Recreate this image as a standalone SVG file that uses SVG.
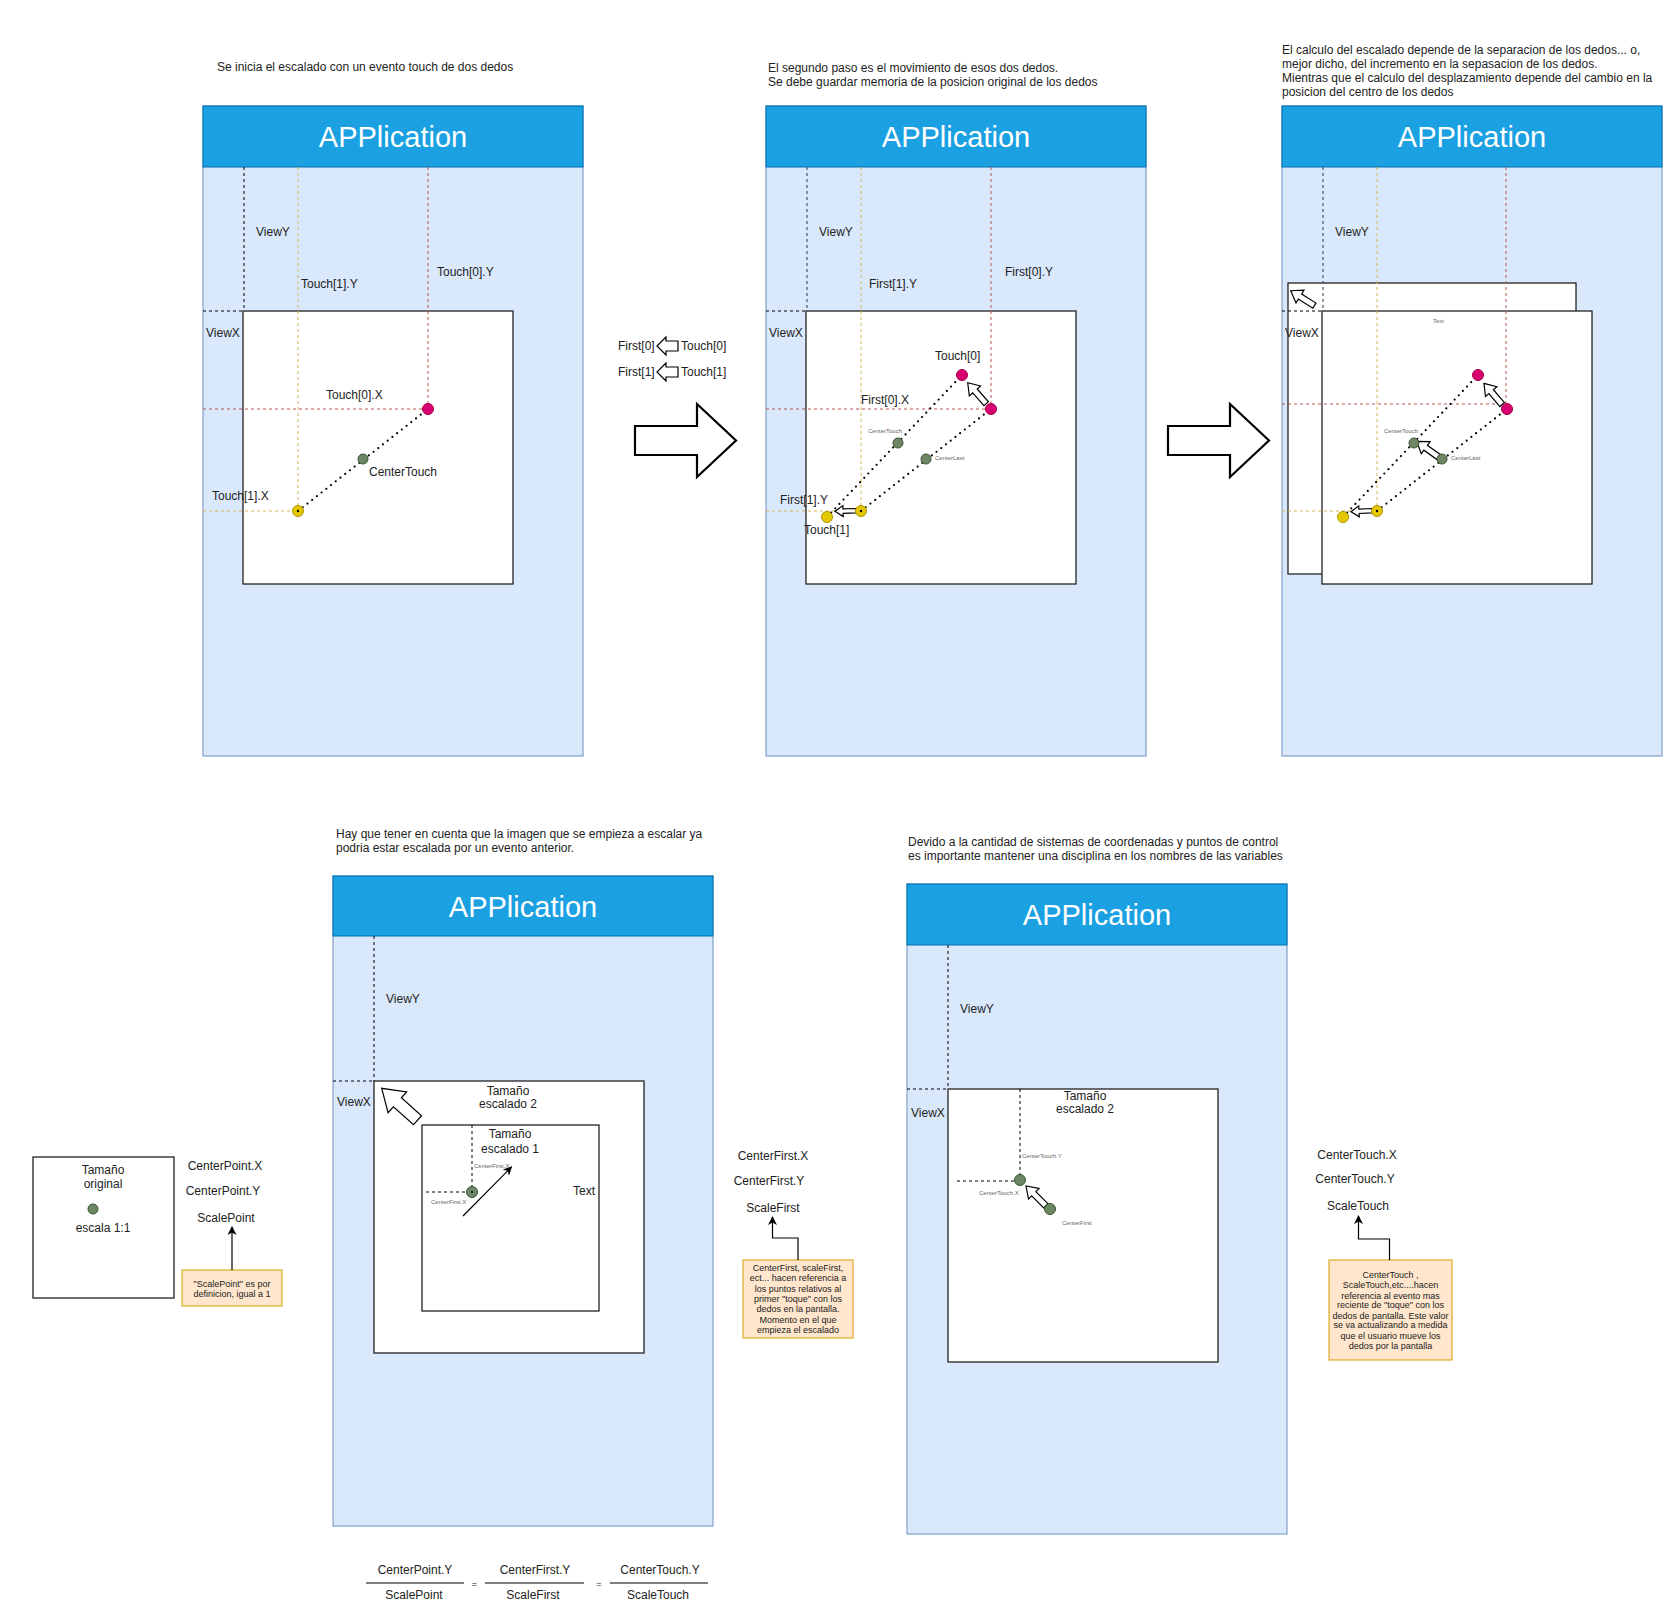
<svg xmlns="http://www.w3.org/2000/svg" xmlns:xlink="http://www.w3.org/1999/xlink" width="1672" height="1613" viewBox="0 0 1672 1613">
<defs>
<style>
text{font-family:"Liberation Sans",Arial,sans-serif;fill:#222}
.t11{font-size:12px}
.t12{font-size:12px}
.mid{text-anchor:middle}
.tiny{font-size:6px;fill:#666}
.note{font-size:9px;text-anchor:middle;fill:#222}
.ptitle{font-size:29px;fill:#fff;text-anchor:middle}
.pbg{fill:#dae8fc;stroke:#6c8ebf;stroke-width:1}
.phead{fill:#1ba1e2;stroke:#006eaf;stroke-width:1}
.sq{fill:#fff;stroke:#222;stroke-width:1.3}
.gk{stroke:#000;stroke-width:1;stroke-dasharray:3 3;fill:none}
.gb{stroke:#4a5568;stroke-width:1.2;stroke-dasharray:3 3;fill:none}
.gg{stroke:#555;stroke-width:1.5;stroke-dasharray:3 3;fill:none}
.gy{stroke:#d6b656;stroke-width:1;stroke-dasharray:3 3;fill:none}
.gr{stroke:#b85450;stroke-width:1;stroke-dasharray:3 3;fill:none}
.dot{stroke:#000;stroke-width:2.2;stroke-linecap:round;stroke-dasharray:0 6;fill:none}
.pr{fill:#d80073;stroke:#a50040;stroke-width:1}
.py{fill:#e3c800;stroke:#b09500;stroke-width:1}
.pg{fill:#6d8764;stroke:#3a5431;stroke-width:1}
.ha{fill:#fff;stroke:#000;stroke-width:1.2;stroke-linejoin:miter}
.big{fill:#fff;stroke:#000;stroke-width:2.2}
.conn{stroke:#000;stroke-width:1.2;fill:none}
.nbox{fill:#ffe6cc;stroke:#d79b00;stroke-width:1}
.fl{stroke:#000;stroke-width:1}
</style>
<polygon id="haL" points="0,0 -11,-7.5 -11,-3 -28,-3 -28,3 -11,3 -11,7.5"/>
<polygon id="haS" points="0,0 -8,-5.5 -8,-2.2 -21,-2.2 -21,2.2 -8,2.2 -8,5.5"/>
<marker id="arr" viewBox="0 0 10 10" refX="9" refY="5" markerWidth="9" markerHeight="9" markerUnits="userSpaceOnUse" orient="auto">
<path d="M0,0 L10,5 L0,10 L3,5 z" fill="#000"/>
</marker>
</defs>
<rect width="1672" height="1613" fill="#fff"/>

<!-- Panel 1 -->
<g id="panel1">
<text class="t11" x="217" y="71">Se inicia el escalado con un evento touch de dos dedos</text>
<rect class="pbg" x="203" y="106" width="380" height="650"/>
<rect class="phead" x="203" y="106" width="380" height="61"/>
<text class="ptitle" x="393" y="147">APPlication</text>
<rect class="sq" x="243" y="311" width="270" height="273"/>
<line class="gk" x1="244" y1="167" x2="244" y2="311"/>
<line class="gk" x1="203" y1="311" x2="243" y2="311"/>
<line class="gy" x1="298" y1="167" x2="298" y2="511"/>
<line class="gy" x1="203" y1="511" x2="298" y2="511"/>
<line class="gr" x1="428" y1="167" x2="428" y2="409"/>
<line class="gr" x1="203" y1="409" x2="428" y2="409"/>
<text class="t12" x="256" y="236">ViewY</text>
<text class="t12" x="301" y="288">Touch[1].Y</text>
<text class="t12" x="437" y="276">Touch[0].Y</text>
<text class="t12" x="206" y="337">ViewX</text>
<text class="t12" x="326" y="399">Touch[0].X</text>
<text class="t12" x="369" y="476">CenterTouch</text>
<text class="t12" x="212" y="500">Touch[1].X</text>
</g>

<!-- Between 1 and 2 -->
<g id="copy-labels">
<text class="t11" x="618" y="350">First[0]</text>
<polygon class="ha" points="657,346 666,337 666,341 678,341 678,351 666,351 666,355"/>
<text class="t11" x="681" y="350">Touch[0]</text>
<text class="t11" x="618" y="376">First[1]</text>
<polygon class="ha" points="657,372 666,363 666,367 678,367 678,377 666,377 666,381"/>
<text class="t11" x="681" y="376">Touch[1]</text>
</g>

<!-- Panel 2 -->
<g id="panel2">
<text class="t11" x="768" y="72">El segundo paso es el movimiento de esos dos dedos.</text>
<text class="t11" x="768" y="86">Se debe guardar memoria de la posicion original de los dedos</text>
<rect class="pbg" x="766" y="106" width="380" height="650"/>
<rect class="phead" x="766" y="106" width="380" height="61"/>
<text class="ptitle" x="956" y="147">APPlication</text>
<rect class="sq" x="806" y="311" width="270" height="273"/>
<line class="gb" x1="807" y1="167" x2="807" y2="311"/>
<line class="gk" x1="766" y1="311" x2="806" y2="311"/>
<line class="gy" x1="861" y1="167" x2="861" y2="511"/>
<line class="gy" x1="766" y1="511" x2="861" y2="511"/>
<line class="gr" x1="991" y1="167" x2="991" y2="409"/>
<line class="gr" x1="766" y1="409" x2="991" y2="409"/>
<text class="t12" x="819" y="236">ViewY</text>
<text class="t12" x="869" y="288">First[1].Y</text>
<text class="t12" x="1005" y="276">First[0].Y</text>
<text class="t12" x="769" y="337">ViewX</text>
<text class="t12" x="935" y="360">Touch[0]</text>
<text class="t12" x="861" y="404">First[0].X</text>
<text class="t12" x="780" y="504">First[1].Y</text>
<text class="t12" x="804" y="534">Touch[1]</text>
<text class="tiny" x="868" y="433">CenterTouch</text>
<text class="tiny" x="935" y="460">CenterLast</text>
</g>

<!-- Panel 3 -->
<g id="panel3">
<text class="t11" x="1282" y="54">El calculo del escalado depende de la separacion de los dedos... o,</text>
<text class="t11" x="1282" y="68">mejor dicho, del incremento en la sepasacion de los dedos.</text>
<text class="t11" x="1282" y="82">Mientras que el calculo del desplazamiento depende del cambio en la</text>
<text class="t11" x="1282" y="96">posicion del centro de los dedos</text>
<rect class="pbg" x="1282" y="106" width="380" height="650"/>
<rect class="phead" x="1282" y="106" width="380" height="61"/>
<text class="ptitle" x="1472" y="147">APPlication</text>
<rect class="sq" x="1288" y="283" width="288" height="291"/>
<rect class="sq" x="1322" y="311" width="270" height="273"/>
<line class="gb" x1="1323" y1="167" x2="1323" y2="311"/>
<line class="gk" x1="1282" y1="311" x2="1322" y2="311"/>
<line class="gy" x1="1377" y1="167" x2="1377" y2="511"/>
<line class="gy" x1="1282" y1="511" x2="1377" y2="511"/>
<line class="gr" x1="1506" y1="167" x2="1506" y2="409"/>
<line class="gr" x1="1282" y1="404" x2="1500" y2="404"/>
<text class="t12" x="1335" y="236">ViewY</text>
<text class="t12" x="1285" y="337">ViewX</text>
<text class="tiny" x="1433" y="323">Text</text>
<text class="tiny" x="1384" y="433">CenterTouch</text>
<text class="tiny" x="1451" y="460">CenterLast</text>
</g>

<!-- Original size -->
<g id="original">
<rect class="sq" x="33" y="1157" width="141" height="141"/>
<text class="t12 mid" x="103" y="1174">Tamaño</text>
<text class="t12 mid" x="103" y="1188">original</text>
<text class="t12 mid" x="103" y="1232">escala 1:1</text>
<text class="t12 mid" x="225" y="1170">CenterPoint.X</text>
<text class="t12 mid" x="223" y="1195">CenterPoint.Y</text>
<text class="t12 mid" x="226" y="1222">ScalePoint</text>
</g>
<g id="note-scalepoint">
<rect class="nbox" x="182" y="1270" width="100" height="36"/>
<text class="note" x="232" y="1287">"ScalePoint" es por</text>
<text class="note" x="232" y="1297">definicion, igual a 1</text>
</g>

<!-- Panel 4 -->
<g id="panel4">
<text class="t11" x="336" y="838">Hay que tener en cuenta que la imagen que se empieza a escalar ya</text>
<text class="t11" x="336" y="852">podria estar escalada por un evento anterior.</text>
<rect class="pbg" x="333" y="876" width="380" height="650"/>
<rect class="phead" x="333" y="876" width="380" height="60"/>
<text class="ptitle" x="523" y="917">APPlication</text>
<rect class="sq" x="374" y="1081" width="270" height="272"/>
<rect class="sq" x="422" y="1125" width="177" height="186"/>
<line class="gk" x1="374" y1="936" x2="374" y2="1081"/>
<line class="gk" x1="333" y1="1081" x2="374" y2="1081"/>
<line class="gk" x1="472" y1="1125" x2="472" y2="1192"/>
<line class="gg" x1="426" y1="1192" x2="472" y2="1192"/>
<text class="t12" x="386" y="1003">ViewY</text>
<text class="t12" x="337" y="1106">ViewX</text>
<text class="t12 mid" x="508" y="1095">Tamaño</text>
<text class="t12 mid" x="508" y="1108">escalado 2</text>
<text class="t12 mid" x="510" y="1138">Tamaño</text>
<text class="t12 mid" x="510" y="1153">escalado 1</text>
<text class="t12" x="573" y="1195">Text</text>
<text class="tiny" x="474" y="1168">CenterFirst.X</text>
<text class="tiny" x="431" y="1204">CenterFirst.X</text>
</g>

<!-- CenterFirst labels -->
<g id="centerfirst-labels">
<text class="t12 mid" x="773" y="1160">CenterFirst.X</text>
<text class="t12 mid" x="769" y="1185">CenterFirst.Y</text>
<text class="t12 mid" x="773" y="1212">ScaleFirst</text>
</g>
<g id="note-centerfirst">
<rect class="nbox" x="743" y="1260" width="110" height="78"/>
<text class="note" x="798" y="1271">CenterFirst, scaleFirst,</text>
<text class="note" x="798" y="1281">ect... hacen referencia a</text>
<text class="note" x="798" y="1291.5">los puntos relativos al</text>
<text class="note" x="798" y="1302">primer "toque" con los</text>
<text class="note" x="798" y="1312">dedos en la pantalla.</text>
<text class="note" x="798" y="1322.5">Momento en el que</text>
<text class="note" x="798" y="1333">empieza el escalado</text>
</g>

<!-- Panel 5 -->
<g id="panel5">
<text class="t11" x="908" y="846">Devido a la cantidad de sistemas de coordenadas y puntos de control</text>
<text class="t11" x="908" y="860">es importante mantener una disciplina en los nombres de las variables</text>
<rect class="pbg" x="907" y="884" width="380" height="650"/>
<rect class="phead" x="907" y="884" width="380" height="61"/>
<text class="ptitle" x="1097" y="925">APPlication</text>
<rect class="sq" x="948" y="1089" width="270" height="273"/>
<line class="gk" x1="948" y1="945" x2="948" y2="1089"/>
<line class="gk" x1="907" y1="1089" x2="948" y2="1089"/>
<line class="gk" x1="1020" y1="1089" x2="1020" y2="1180"/>
<line class="gg" x1="957" y1="1181" x2="1020" y2="1181"/>
<text class="t12" x="960" y="1013">ViewY</text>
<text class="t12" x="911" y="1117">ViewX</text>
<text class="t12 mid" x="1085" y="1100">Tamaño</text>
<text class="t12 mid" x="1085" y="1113">escalado 2</text>
<text class="tiny" x="1022" y="1158">CenterTouch.Y</text>
<text class="tiny" x="979" y="1195">CenterTouch.X</text>
<text class="tiny" x="1062" y="1225">CenterFirst</text>
</g>

<!-- CenterTouch labels -->
<g id="centertouch-labels">
<text class="t12 mid" x="1357" y="1159">CenterTouch.X</text>
<text class="t12 mid" x="1355" y="1183">CenterTouch.Y</text>
<text class="t12 mid" x="1358" y="1210">ScaleTouch</text>
</g>
<g id="note-centertouch">
<rect class="nbox" x="1329" y="1260" width="123" height="100"/>
<text class="note" x="1390.5" y="1278">CenterTouch ,</text>
<text class="note" x="1390.5" y="1288">ScaleTouch,etc....hacen</text>
<text class="note" x="1390.5" y="1298.5">referencia al evento mas</text>
<text class="note" x="1390.5" y="1308">reciente de "toque" con los</text>
<text class="note" x="1390.5" y="1318.5">dedos de pantalla. Este valor</text>
<text class="note" x="1390.5" y="1328">se va actualizando a medida</text>
<text class="note" x="1390.5" y="1339">que el usuario mueve los</text>
<text class="note" x="1390.5" y="1348.5">dedos por la pantalla</text>
</g>

<!-- Formula -->
<g id="formula">
<text class="t12 mid" x="415" y="1574">CenterPoint.Y</text>
<line class="fl" x1="366" y1="1583" x2="464" y2="1583"/>
<text class="t12 mid" x="414" y="1599">ScalePoint</text>
<text class="mid" style="font-size:9px" x="474.5" y="1587">=</text>
<text class="t12 mid" x="535" y="1574">CenterFirst.Y</text>
<line class="fl" x1="485" y1="1583" x2="584" y2="1583"/>
<text class="t12 mid" x="533" y="1599">ScaleFirst</text>
<text class="mid" style="font-size:9px" x="599" y="1587">=</text>
<text class="t12 mid" x="660" y="1574">CenterTouch.Y</text>
<line class="fl" x1="610" y1="1583" x2="708" y2="1583"/>
<text class="t12 mid" x="658" y="1599">ScaleTouch</text>
</g>

<!-- Connectors -->
<g id="connectors">
<polygon class="big" points="635,426 697,426 697,404 736,440.5 697,477 697,455 635,455"/>
<polygon class="big" points="1168,426 1230,426 1230,404 1269,440.5 1230,477 1230,455 1168,455"/>
<line class="dot" x1="298" y1="511" x2="428" y2="409"/>
<line class="dot" x1="827" y1="517" x2="962" y2="375"/>
<line class="dot" x1="861" y1="511" x2="991" y2="409"/>
<line class="dot" x1="1343" y1="517" x2="1478" y2="375"/>
<line class="dot" x1="1377" y1="511" x2="1507" y2="409"/>
<use xlink:href="#haL" class="ha" transform="translate(967.7,382.7) rotate(-131.3)"/>
<use xlink:href="#haS" class="ha" transform="translate(835,511.3) rotate(178.4)"/>
<use xlink:href="#haL" class="ha" transform="translate(1484,383.3) rotate(-130.5)"/>
<use xlink:href="#haL" class="ha" transform="translate(1416.7,441.3) rotate(-144.3)"/>
<use xlink:href="#haS" class="ha" transform="translate(1351,511.7) rotate(177.3)"/>
<use xlink:href="#haL" class="ha" transform="translate(1290.7,290.7) rotate(-147.8)"/>
<polygon class="ha" transform="translate(381.7,1088.3) rotate(-138.3)" points="0,0 -21,-14 -21,-6 -48,-6 -48,6 -21,6 -21,14"/>
<use xlink:href="#haL" class="ha" transform="translate(1026,1186) rotate(-135)"/>
<line class="conn" x1="463" y1="1216" x2="511.5" y2="1167" marker-end="url(#arr)"/>
<line class="conn" x1="232" y1="1270" x2="232" y2="1227" marker-end="url(#arr)"/>
<path class="conn" d="M798,1260 V1238 H772.5 V1217" marker-end="url(#arr)"/>
<path class="conn" d="M1389.5,1260 V1239 H1358.5 V1216" marker-end="url(#arr)"/>
</g>

<!-- Points -->
<g id="points-panel1">
<circle class="pr" cx="428" cy="409" r="5.5"/>
<circle class="py" cx="298" cy="511" r="5.5"/>
<circle cx="298" cy="511" r="1.2" fill="#000"/>
<circle class="pg" cx="363" cy="459" r="5"/>
</g>
<g id="points-panel2">
<circle class="pr" cx="991" cy="409" r="5.5"/>
<circle class="pr" cx="962" cy="375" r="5.5"/>
<circle class="py" cx="861" cy="511" r="5.5"/>
<circle cx="861" cy="511" r="1.2" fill="#000"/>
<circle class="py" cx="827" cy="517" r="5.5"/>
<circle class="pg" cx="898" cy="443" r="5"/>
<circle class="pg" cx="926" cy="459" r="5"/>
</g>
<g id="points-panel3">
<circle class="pr" cx="1507" cy="409" r="5.5"/>
<circle class="pr" cx="1478" cy="375" r="5.5"/>
<circle class="py" cx="1377" cy="511" r="5.5"/>
<circle cx="1377" cy="511" r="1.2" fill="#000"/>
<circle class="py" cx="1343" cy="517" r="5.5"/>
<circle class="pg" cx="1414" cy="443" r="5"/>
<circle class="pg" cx="1442" cy="459" r="5"/>
</g>
<g id="points-other">
<circle class="pg" cx="93" cy="1209" r="5"/>
<circle class="pg" cx="472" cy="1192" r="5.5"/>
<circle cx="472" cy="1192" r="1" fill="#000"/>
<circle class="pg" cx="1020" cy="1180" r="5.5"/>
<circle class="pg" cx="1050" cy="1209" r="5.5"/>
</g>
</svg>
